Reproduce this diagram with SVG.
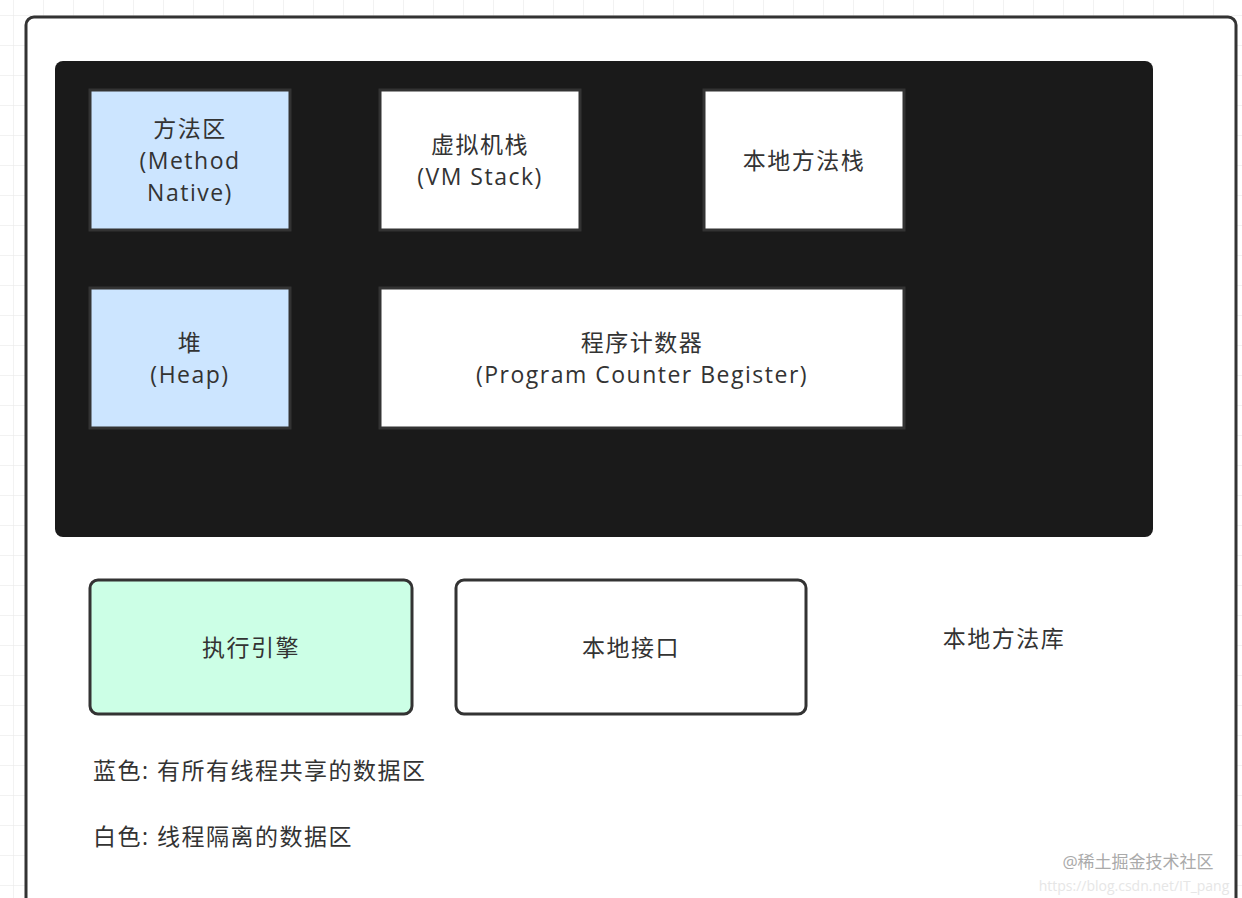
<svg xmlns="http://www.w3.org/2000/svg" width="1242" height="898" viewBox="0 0 1242 898">
<defs>
<pattern id="grid" width="30" height="30" patternUnits="userSpaceOnUse" x="13" y="15">
<path d="M0 0H30M0 0V30" fill="none" stroke="#e6e6e6" stroke-width="1"/>
</pattern>
<style>
text{font-family:"Open Sans","Noto Sans CJK SC",sans-serif;font-size:23px;letter-spacing:1.5px;fill:#333;text-anchor:middle}
.l{text-anchor:start}
.n{stroke:#333;stroke-width:3}
</style>
</defs>
<rect width="1242" height="898" fill="#fff"/>
<rect width="1242" height="898" fill="url(#grid)"/>
<rect x="26" y="17" width="1210" height="900" rx="8" fill="#fff" stroke="#333" stroke-width="3"/>
<g id="container"><rect x="55" y="61" width="1098" height="476" rx="8" fill="#1a1a1a"/></g>
<g id="method"><rect class="n" x="90" y="90" width="200" height="140" fill="#cce5ff"/><text x="190" y="137">方法区</text><text x="190" y="169">(Method</text><text x="190" y="201">Native)</text></g>
<g id="vmstack"><rect class="n" x="380" y="90" width="200" height="140" fill="#fff"/><text x="480" y="153">虚拟机栈</text><text x="480" y="185">(VM Stack)</text></g>
<g id="nativestack"><rect class="n" x="704" y="90" width="200" height="140" fill="#fff"/><text x="804" y="169">本地方法栈</text></g>
<g id="heap"><rect class="n" x="90" y="288" width="200" height="140" fill="#cce5ff"/><text x="190" y="351">堆</text><text x="190" y="383">(Heap)</text></g>
<g id="pc"><rect class="n" x="380" y="288" width="524" height="140" fill="#fff"/><text x="642" y="351">程序计数器</text><text x="642" y="383">(Program Counter Begister)</text></g>
<g id="engine"><rect class="n" x="90" y="580" width="322" height="134" rx="8" fill="#ccffe6"/><text x="251" y="656">执行引擎</text></g>
<g id="nif"><rect class="n" x="456" y="580" width="350" height="134" rx="8" fill="#fff"/><text x="631" y="656">本地接口</text></g>
<g id="lib"><text x="1004" y="647">本地方法库</text></g>
<g id="connectors"/>
<text class="l" x="93" y="779">蓝色: 有所有线程共享的数据区</text>
<text class="l" x="93" y="845">白色:  线程隔离的数据区</text>
<text x="1138" y="868" style="font-size:17px;letter-spacing:0;fill:#aaa">@稀土掘金技术社区</text>
<text x="1134" y="891" style="font-size:14px;letter-spacing:0;fill:#e6e6e6">https://blog.csdn.net/IT_pang</text>
</svg>
